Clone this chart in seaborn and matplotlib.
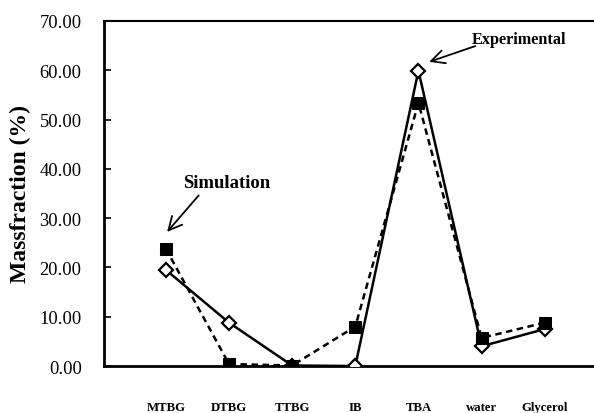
import matplotlib
matplotlib.use("Agg")
import matplotlib.pyplot as plt
import seaborn as sns
import pandas as pd

components = ["MTBG", "DTBG", "TTBG", "IB", "TBA", "water", "Glycerol"]
simulation = [23.8, 0.4, 0.1, 8.0, 53.4, 5.7, 8.8]
experimental = [19.5, 8.8, 0.1, 0.0, 59.9, 4.0, 7.5]
y_ticks = [0, 10, 20, 30, 40, 50, 60, 70]

sns.set_style("white")
plt.rcParams["font.family"] = ["Liberation Serif", "DejaVu Serif"]
plt.rcParams.update({"text.color": "black", "axes.labelcolor": "black",
                     "xtick.color": "black", "ytick.color": "black"})

pos = list(range(len(components)))
df_sim = pd.DataFrame({"x": pos, "y": simulation})
df_exp = pd.DataFrame({"x": pos, "y": experimental})

fig = plt.figure(figsize=(5.94, 4.14), dpi=100)
ax = fig.add_axes([0.175, 0.1135, 0.825, 0.8335])

sns.lineplot(data=df_exp, x="x", y="y", ax=ax, color="black", lw=1.8,
             marker="D", markersize=7, markerfacecolor="white",
             markeredgecolor="black", markeredgewidth=1.6, zorder=3)
sns.lineplot(data=df_sim, x="x", y="y", ax=ax, color="black", lw=1.8,
             linestyle=(0, (2.6, 1.8)), marker="s", markersize=8.5,
             markerfacecolor="black", markeredgecolor="black", zorder=4)

ax.set_xlim(-0.98, 6.78)
ax.set_ylim(0, 70)
ax.set_yticks(y_ticks)
ax.set_yticklabels([f"{v:.2f}" for v in y_ticks], fontsize=13.3)
ax.set_xticks(pos)
ax.set_xticklabels(components, fontsize=9.2, fontweight="bold")
ax.tick_params(axis="x", length=0, pad=25)
ax.tick_params(axis="y", direction="in", length=5, width=1.2, pad=16, left=True)

for side in ["left", "bottom", "top"]:
    ax.spines[side].set_visible(True)
    ax.spines[side].set_color("black")
ax.spines["left"].set_linewidth(2)
ax.spines["bottom"].set_linewidth(2)
ax.spines["top"].set_linewidth(1.5)
ax.spines["right"].set_visible(False)

ax.set_xlabel("")
ax.set_ylabel("Massfraction (%)", fontsize=17, fontweight="bold", labelpad=6)

# Annotation labels with arrows pointing to the series
ax.text(0.96, 37.3, "Simulation", fontsize=13.5, fontweight="bold",
        ha="center", va="center")
ax.annotate("", xy=(0.02, 27.2), xytext=(0.52, 34.6),
            arrowprops=dict(arrowstyle="->", color="black", lw=1.3,
                            shrinkA=0, shrinkB=0, mutation_scale=24))
ax.text(5.6, 66.3, "Experimental", fontsize=11.7, fontweight="bold",
        ha="center", va="center")
ax.annotate("", xy=(4.17, 61.7), xytext=(4.9, 64.9),
            arrowprops=dict(arrowstyle="->", color="black", lw=1.3,
                            shrinkA=0, shrinkB=0, mutation_scale=24))

fig.savefig("out.png", dpi=100)
